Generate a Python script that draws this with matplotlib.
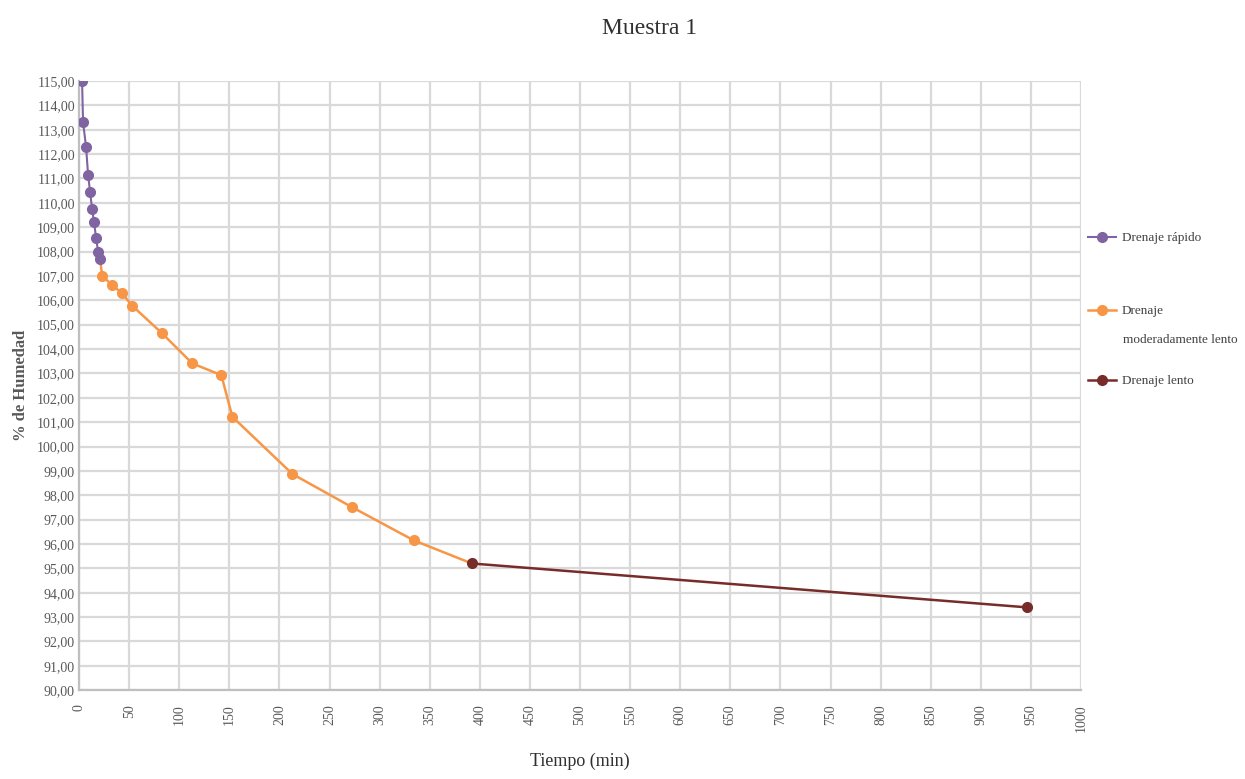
import numpy as np
import matplotlib.pyplot as plt
from matplotlib.legend import Legend
from matplotlib.ticker import MultipleLocator, FuncFormatter

plt.rcParams['font.family'] = ['Liberation Serif', 'DejaVu Serif']

# Drenaje rapido
t_rapido = [3, 4, 7, 9, 11, 13, 15, 17, 19, 21]
h_rapido = [115.0, 113.3, 112.3, 111.15, 110.45, 109.75, 109.2, 108.55, 108.0, 107.7]

# Drenaje moderadamente lento (arranca en el ultimo punto del rapido)
t_moderado = [21, 23, 33, 43, 53, 83, 113, 142, 153, 213, 272, 334, 392]
h_moderado = [107.7, 107.0, 106.63, 106.28, 105.78, 104.64, 103.41, 102.93, 101.22,
              98.87, 97.52, 96.15, 95.2]

# Drenaje lento
t_lento = [392, 946]
h_lento = [95.2, 93.4]

morado = '#8064A2'
naranja = '#F79646'
granate = '#772C2A'

fig = plt.figure(figsize=(12.45, 7.79), dpi=100)
ax = fig.add_axes([0.0635, 0.114, 0.8048, 0.782])

l1, = ax.plot(t_rapido, h_rapido, color=morado, lw=1.5, marker='o', ms=7, zorder=4)
l2, = ax.plot(t_moderado, h_moderado, color=naranja, lw=1.8, marker='o', ms=7,
              markevery=list(range(1, len(t_moderado) - 1)), zorder=3)
l3, = ax.plot(t_lento, h_lento, color=granate, lw=1.8, marker='o', ms=7, zorder=5)

ax.set_xlim(0, 1000)
ax.set_ylim(90, 115)
ax.xaxis.set_major_locator(MultipleLocator(50))
ax.yaxis.set_major_locator(MultipleLocator(1))
ax.yaxis.set_major_formatter(FuncFormatter(lambda v, p: f'{v:.2f}'.replace('.', ',')))
ax.xaxis.set_major_formatter(FuncFormatter(lambda v, p: f'{v:.0f}'))
ax.tick_params(axis='x', labelrotation=90, length=0, pad=10, labelsize=10, colors='#595959')
ax.tick_params(axis='y', length=0, pad=3, labelsize=10, colors='#595959')

ax.grid(True, color='#D9D9D9', lw=1.6)
ax.set_axisbelow(True)
for s in ['top', 'right']:
    ax.spines[s].set_visible(False)
for s in ['left', 'bottom']:
    ax.spines[s].set_color('#BFBFBF')
    ax.spines[s].set_linewidth(1.6)

fig.text(0.522, 0.964, 'Muestra 1', fontsize=17, color='#303030', ha='center', va='center')
ax.set_xlabel('Tiempo (min)', fontsize=13, color='#303030')
ax.xaxis.set_label_coords(0.5, -0.103)
ax.set_ylabel('% de Humedad', fontsize=12, fontweight='bold', color='#595959', labelpad=6)

# una leyenda por serie, a la derecha del grafico
entradas = [(l1, 'Drenaje rápido', 0.742), (l2, 'Drenaje', 0.622), (l3, 'Drenaje lento', 0.507)]
for linea, texto, yy in entradas:
    leg = Legend(ax, [linea], [texto], loc='center left', bbox_to_anchor=(1.007, yy),
                 frameon=False, fontsize=9.5, handlelength=2.1, handletextpad=0.45,
                 borderpad=0, borderaxespad=0, labelcolor='#404040')
    ax.add_artist(leg)
ax.text(1.0415, 0.575, 'moderadamente lento', transform=ax.transAxes,
        fontsize=9.5, color='#404040', ha='left', va='center')

fig.savefig('out.png', dpi=100)
